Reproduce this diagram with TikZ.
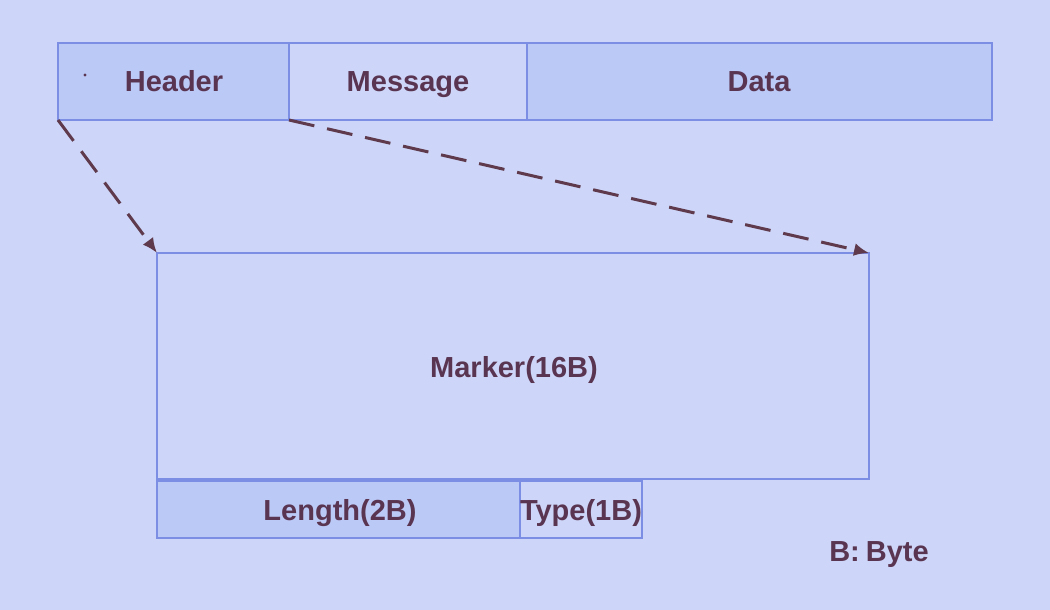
\documentclass[tikz,border=0pt]{standalone}
\usepackage{fontspec}
\setmainfont{Liberation Sans}
\usetikzlibrary{arrows.meta}
\definecolor{bg}{HTML}{CDD6F8}
\definecolor{dark}{HTML}{BBC9F7}
\definecolor{edge}{HTML}{7C8DE4}
\definecolor{txt}{HTML}{5A3552}
\definecolor{arr}{HTML}{5E3A4C}
\tikzset{
  fbox/.style={draw=edge, line width=1.2pt},
  darkbox/.style={fbox, fill=dark},
  lightbox/.style={fbox, fill=bg},
  lbl/.style={text=txt, anchor=base, inner sep=0pt, font=\bfseries\fontsize{29}{33}\selectfont},
  zoomline/.style={draw=arr, line width=3pt, dash pattern=on 26pt off 13pt, -{Latex[length=15pt,width=13pt]}},
}
\begin{document}
\begin{tikzpicture}[x=1pt,y=-1pt]
\fill[bg] (0,0) rectangle (1050,610);
\useasboundingbox (0,0) rectangle (1050,610);
% top bar
\draw[darkbox] (58,43) rectangle (289,120);
\draw[lightbox] (289,43) rectangle (527,120);
\draw[darkbox] (527,43) rectangle (992,120);
\node[lbl] (hdr) at (174,92) {Header};
\node[lbl] (msg) at (408,92) {Message};
\node[lbl] (dat) at (759,92) {Data};
\fill[txt] (85,75) circle (1.6pt);
% corners
\coordinate (hl) at (58,120);
\coordinate (hr) at (289,120);
\coordinate (ml) at (157,253);
\coordinate (mr) at (869,253);
% marker box
\draw[lightbox] (157,253) rectangle (869,479);
\node[lbl] (mk) at (514,377) {Marker(16B)};
% lower boxes
\draw[darkbox] (157,481) rectangle (520,538);
\draw[lightbox] (520,481) rectangle (642,538);
\node[lbl] (len) at (340,520) {Length(2B)};
\node[lbl] (typ) at (581,520) {Type(1B)};
\node[lbl] (byte) at (879,561) {B:\hspace{6pt}Byte};
% arrows
\draw[zoomline] (hl) -- (ml);
\draw[zoomline] (hr) -- (mr);
\end{tikzpicture}
\end{document}
